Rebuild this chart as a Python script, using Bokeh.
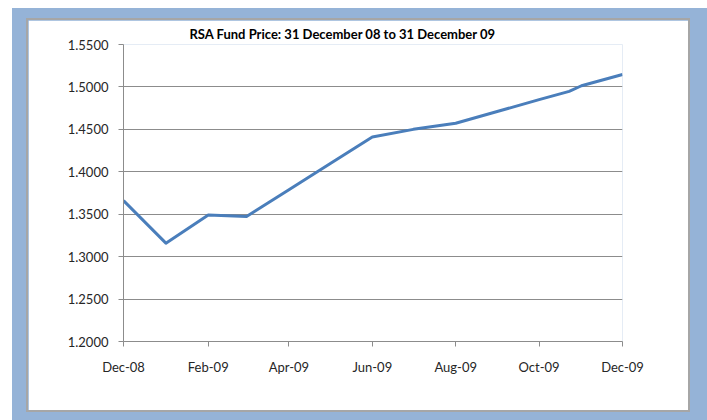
import pandas as pd
from bokeh.plotting import figure
from bokeh.layouts import column
from bokeh.models import FixedTicker, DatetimeTickFormatter, PrintfTickFormatter, ColumnDataSource
from bokeh.embed import file_html
from bokeh.resources import INLINE

# ---- data ----
dates = ["2008-12-01", "2009-01-01", "2009-02-01", "2009-03-01", "2009-04-01",
         "2009-05-01", "2009-06-01", "2009-07-01", "2009-08-01", "2009-09-01",
         "2009-10-01", "2009-10-23", "2009-11-01", "2009-12-01"]
prices = [1.3660, 1.3159, 1.3492, 1.3474, 1.3789,
          1.4094, 1.4409, 1.4500, 1.4572, 1.4713,
          1.4850, 1.4948, 1.5014, 1.5146]
x_tick_dates = ["2008-12-01", "2009-02-01", "2009-04-01", "2009-06-01",
                "2009-08-01", "2009-10-01", "2009-12-01"]
y_ticks = [1.20, 1.25, 1.30, 1.35, 1.40, 1.45, 1.50, 1.55]
title_text = "RSA Fund Price: 31 December 08 to 31 December 09"

dt = pd.to_datetime(dates)
src = ColumnDataSource(dict(x=dt, y=prices))
xt = [pd.Timestamp(d).value / 1e6 for d in x_tick_dates]

p = figure(width=660, height=390, x_axis_type="datetime",
           x_range=(dt[0], dt[-1]), y_range=(y_ticks[0], y_ticks[-1]),
           output_backend="svg", toolbar_location=None,
           min_border_left=95, min_border_right=66, min_border_top=24, min_border_bottom=69)

p.title.text = title_text
p.title.text_font = "Lato"
p.title.text_font_size = "13px"
p.title.text_font_style = "bold"
p.title.text_color = "#000000"
p.title.align = "left"
p.title.offset = 66
p.title.standoff = 6

p.background_fill_color = "white"
p.border_fill_color = "white"
p.outline_line_color = None
p.styles = {"outline": "2px solid #A6A6A6"}

p.xaxis.ticker = FixedTicker(ticks=xt)
fmt = "%b-%y"
p.xaxis.formatter = DatetimeTickFormatter(milliseconds=fmt, seconds=fmt, minsec=fmt, minutes=fmt,
                                          hourmin=fmt, hours=fmt, days=fmt, months=fmt, years=fmt)
p.yaxis.ticker = FixedTicker(ticks=y_ticks)
p.yaxis.formatter = PrintfTickFormatter(format="%.4f")

for ax in (p.xaxis, p.yaxis):
    ax.axis_line_color = "#8C8C8C"
    ax.major_tick_line_color = "#8C8C8C"
    ax.major_tick_out = 5
    ax.major_tick_in = 0
    ax.minor_tick_line_color = None
    ax.major_label_text_font = "Lato"
    ax.major_label_text_font_size = "13px"
    ax.major_label_text_color = "#262626"
p.xaxis.major_label_standoff = 12
p.yaxis.major_label_standoff = 10

p.xgrid.grid_line_color = None
p.ygrid.grid_line_color = "#8C8C8C"
p.ygrid.grid_line_width = 1

p.line("x", "y", source=src, line_color="#4A7EBB", line_width=3, line_join="round")

layout = column(p, styles={"background-color": "#95B3D7",
                           "padding": "12px 19px 10px 16px",
                           "margin-top": "8px",
                           "margin-left": "12px"})

open("out.html", "w").write(file_html(layout, INLINE))
